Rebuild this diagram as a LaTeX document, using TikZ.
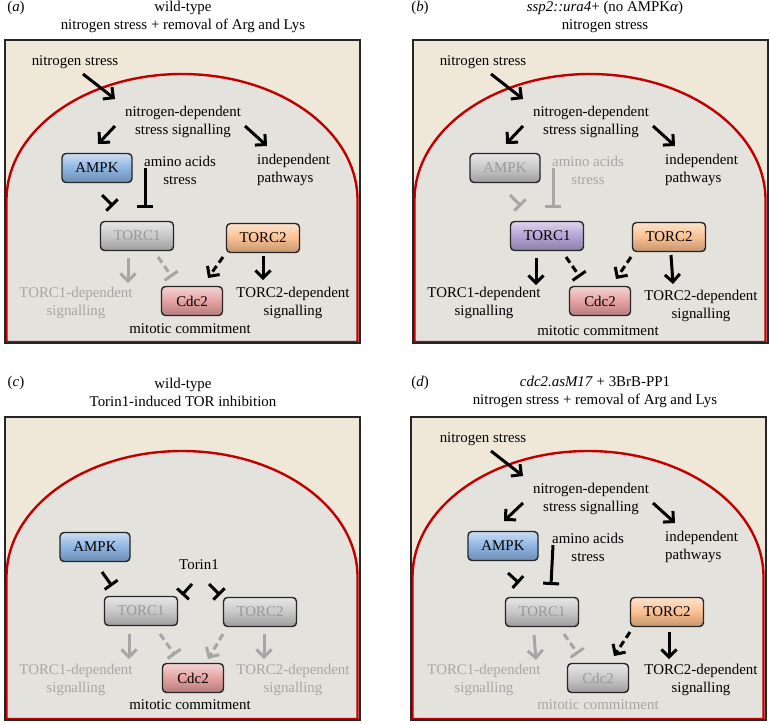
\documentclass[tikz,border=0pt]{standalone}
\usepackage{fontspec}
\setmainfont{Liberation Serif}
\usetikzlibrary{arrows.meta,calc}
\definecolor{beige}{HTML}{EFE7D8}
\definecolor{cellg}{HTML}{E4E2DD}
\definecolor{memred}{HTML}{C00000}
\definecolor{lgray}{HTML}{A6A6A6}
\definecolor{ampkc}{HTML}{8DB4E2}
\definecolor{torcgc}{HTML}{C8C8C8}
\definecolor{torctwo}{HTML}{FAC090}
\definecolor{torcpur}{HTML}{B3A2D5}
\definecolor{cdcc}{HTML}{E6A1A1}
\newcommand\myfs{\fontsize{14.9pt}{18pt}\selectfont}
\newcommand\cellframe{%
  \fill[beige] (5,40) rectangle (360,343);
  \fill[cellg] (6.5,342) -- (6.5,200) arc[start angle=180,end angle=360,x radius=175.5,y radius=126] -- (357.5,342) -- cycle;
  \draw[memred, line width=2.4pt] (6.5,342) -- (6.5,200) arc[start angle=180,end angle=360,x radius=175.5,y radius=126] -- (357.5,342) -- cycle;
  \draw[black!85, line width=1.4pt] (5,40) rectangle (360,343);}
\tikzset{
  txt/.style={font=\myfs, align=center, inner sep=0pt},
  box/.style={font=\myfs, rounded corners=4pt, draw=black!85, line width=1.4pt,
    minimum height=29pt, minimum width=72pt, inner sep=0pt,
    top color=#1!45!white, bottom color=#1!78!black, middle color=#1},
  gbox/.style={box=torcgc, text=black!40},
  act/.style={line width=3pt, -{Straight Barb[length=7.5pt,width=15pt,line width=3pt]}},
  inh/.style={line width=3pt, -{Bar[width=16pt,line width=3pt]}},
  dsh/.style={dash pattern=on 7pt off 4pt},
}
\begin{document}
\begin{tikzpicture}[x=1pt,y=-1pt]
\useasboundingbox (0,0) rectangle (770,724);
\fill[white] (0,0) rectangle (770,724);

% titles
\node[txt] (la) at (16,8) {(\textit{a})};
\node[txt] (ta) at (183,17) {wild-type\\nitrogen stress + removal of Arg and Lys};
\node[txt] (lb) at (420,8) {(\textit{b})};
\node[txt] (tb) at (605,17) {\textit{ssp2::ura4}+ (no AMPK\textit{α})\\nitrogen stress};
\node[txt] (lc) at (16,383) {(\textit{c})};
\node[txt] (tc) at (183,392) {wild-type\\Torin1-induced TOR inhibition};
\node[txt] (ld) at (420,383) {(\textit{d})};
\node[txt] (td) at (595,392) {\textit{cdc2.asM17} + 3BrB-PP1\\nitrogen stress + removal of Arg and Lys};

% ---------------- panel a
\begin{scope}
\cellframe
\node[txt] (a-ns) at (75,62) {nitrogen stress};
\node[txt] (a-nds) at (183,122) {nitrogen-dependent\\stress signalling};
\node[box=ampkc, minimum width=70pt] (a-ampk) at (97,168) {AMPK};
\node[txt] (a-aa) at (180,170) {amino acids\\stress};
\node[txt, anchor=west, align=left] (a-ind) at (257,170) {independent\\pathways};
\node[gbox, minimum width=73pt] (a-t1) at (137,236) {TORC1};
\node[box=torctwo, minimum width=73pt] (a-t2) at (263,238) {TORC2};
\node[box=cdcc, minimum width=61pt] (a-cdc) at (192,301) {Cdc2};
\node[txt, text=lgray] (a-t1d) at (76,303) {TORC1-dependent\\signalling};
\node[txt] (a-t2d) at (293,303) {TORC2-dependent\\signalling};
\node[txt] (a-mc) at (190,329) {mitotic commitment};
\draw[act] ($(a-ns)+(8,12)$) -- ($(a-nds)+(-68,-23)$);
\draw[act] ($(a-nds)+(-68,4)$) -- ($(a-ampk)+(1,-24)$);
\draw[act] ($(a-nds)+(62,4)$) -- ($(a-ind.west)+(10,-24)$);
\draw[inh] ($(a-ampk)+(5,27)$) -- ($(a-t1)+(-24,-30)$);
\draw[inh] ($(a-aa)+(-35,-2)$) -- ($(a-t1)+(8,-28)$);
\draw[act, lgray] ($(a-t1)+(-9,22)$) -- ($(a-t1d)+(52,-20)$);
\draw[inh, dsh, lgray] ($(a-t1)+(21,21)$) -- ($(a-cdc)+(-20,-24)$);
\draw[act, dsh] ($(a-t2)+(-40,19)$) -- ($(a-cdc)+(16,-23)$);
\draw[act] ($(a-t2)+(0,18)$) -- ($(a-t2d)+(-30,-23)$);
\end{scope}

% ---------------- panel b
\begin{scope}[shift={(408,0)}]
\cellframe
\node[txt] (b-ns) at (75,62) {nitrogen stress};
\node[txt] (b-nds) at (183,122) {nitrogen-dependent\\stress signalling};
\node[gbox, minimum width=70pt] (b-ampk) at (97,168) {AMPK};
\node[txt, text=lgray] (b-aa) at (180,170) {amino acids\\stress};
\node[txt, anchor=west, align=left] (b-ind) at (257,170) {independent\\pathways};
\node[box=torcpur, minimum width=73pt] (b-t1) at (139,236) {TORC1};
\node[box=torctwo, minimum width=73pt] (b-t2) at (261,237) {TORC2};
\node[box=cdcc, minimum width=61pt] (b-cdc) at (192,301) {Cdc2};
\node[txt] (b-t1d) at (76,303) {TORC1-dependent\\signalling};
\node[txt] (b-t2d) at (293,306) {TORC2-dependent\\signalling};
\node[txt] (b-mc) at (190,331) {mitotic commitment};
\draw[act] ($(b-ns)+(8,12)$) -- ($(b-nds)+(-68,-23)$);
\draw[act] ($(b-nds)+(-68,4)$) -- ($(b-ampk)+(1,-24)$);
\draw[act] ($(b-nds)+(62,4)$) -- ($(b-ind.west)+(10,-24)$);
\draw[inh, lgray] ($(b-ampk)+(5,27)$) -- ($(b-t1)+(-26,-30)$);
\draw[inh, lgray] ($(b-aa)+(-35,-2)$) -- ($(b-t1)+(6,-28)$);
\draw[act] ($(b-t1)+(-11,22)$) -- ($(b-t1d)+(52,-18)$);
\draw[inh, dsh] ($(b-t1)+(19,21)$) -- ($(b-cdc)+(-20,-24)$);
\draw[act, dsh] ($(b-t2)+(-38,20)$) -- ($(b-cdc)+(16,-22)$);
\draw[act] ($(b-t2)+(2,18)$) -- ($(b-t2d)+(-28,-22)$);
\end{scope}

% ---------------- panel c
\begin{scope}[shift={(0,377)}]
\cellframe
\node[box=ampkc, minimum width=70pt] (c-ampk) at (95,170) {AMPK};
\node[txt] (c-tor) at (199,188) {Torin1};
\node[gbox, minimum width=73pt] (c-t1) at (141,234) {TORC1};
\node[gbox, minimum width=73pt] (c-t2) at (260,235) {TORC2};
\node[box=cdcc, minimum width=61pt] (c-cdc) at (193,301) {Cdc2};
\node[txt, text=lgray] (c-t1d) at (76,303) {TORC1-dependent\\signalling};
\node[txt, text=lgray] (c-t2d) at (293,303) {TORC2-dependent\\signalling};
\node[txt] (c-mc) at (190,328) {mitotic commitment};
\draw[inh] ($(c-ampk)+(7,25)$) -- ($(c-t1)+(-29,-25)$);
\draw[inh] ($(c-tor)+(-7,19)$) -- ($(c-t1)+(41,-16)$);
\draw[inh] ($(c-tor)+(10,19)$) -- ($(c-t2)+(-40,-17)$);
\draw[act, lgray] ($(c-t1)+(-12,23)$) -- ($(c-t1d)+(53,-21)$);
\draw[inh, dsh, lgray] ($(c-t1)+(19,23)$) -- ($(c-cdc)+(-18,-23)$);
\draw[act, dsh, lgray] ($(c-t2)+(-37,22)$) -- ($(c-cdc)+(15,-19)$);
\draw[act, lgray] ($(c-t2)+(4,22)$) -- ($(c-t2d)+(-29,-21)$);
\end{scope}

% ---------------- panel d
\begin{scope}[shift={(406,377)}]
\cellframe
\node[txt] (d-ns) at (77,62) {nitrogen stress};
\node[txt] (d-nds) at (185,122) {nitrogen-dependent\\stress signalling};
\node[box=ampkc, minimum width=70pt] (d-ampk) at (97,169) {AMPK};
\node[txt] (d-aa) at (182,170) {amino acids\\stress};
\node[txt, anchor=west, align=left] (d-ind) at (259,170) {independent\\pathways};
\node[gbox, minimum width=73pt] (d-t1) at (136,235) {TORC1};
\node[box=torctwo, minimum width=73pt] (d-t2) at (261,235) {TORC2};
\node[gbox, minimum width=61pt] (d-cdc) at (192,301) {Cdc2};
\node[txt, text=lgray] (d-t1d) at (78,303) {TORC1-dependent\\signalling};
\node[txt] (d-t2d) at (295,303) {TORC2-dependent\\signalling};
\node[txt, text=lgray] (d-mc) at (192,328) {mitotic commitment};
\draw[act] ($(d-ns)+(8,12)$) -- ($(d-nds)+(-68,-23)$);
\draw[act] ($(d-nds)+(-68,4)$) -- ($(d-ampk)+(1,-25)$);
\draw[act] ($(d-nds)+(62,4)$) -- ($(d-ind.west)+(10,-24)$);
\draw[inh] ($(d-ampk)+(5,27)$) -- ($(d-t1)+(-23,-29)$);
\draw[inh] ($(d-aa)+(-35,-2)$) -- ($(d-t1)+(9,-27)$);
\draw[act, lgray] ($(d-t1)+(-8,23)$) -- ($(d-t1d)+(52,-20)$);
\draw[inh, dsh, lgray] ($(d-t1)+(22,22)$) -- ($(d-cdc)+(-20,-24)$);
\draw[act, dsh] ($(d-t2)+(-37,20)$) -- ($(d-cdc)+(16,-22)$);
\draw[act] ($(d-t2)+(2,20)$) -- ($(d-t2d)+(-32,-21)$);
\end{scope}
\end{tikzpicture}
\end{document}
